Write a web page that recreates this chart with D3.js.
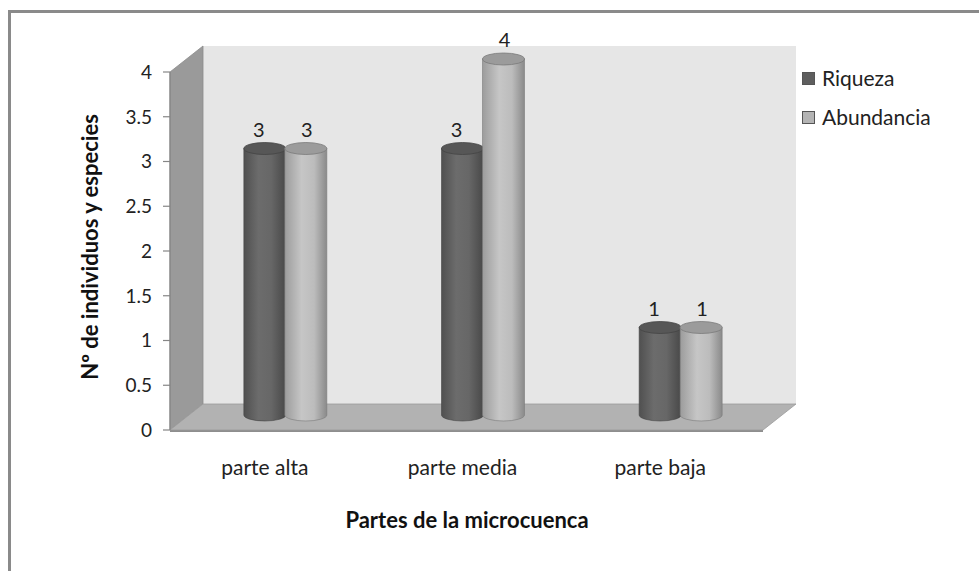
<!DOCTYPE html>
<html>
<head>
<meta charset="utf-8">
<script src="https://cdn.jsdelivr.net/npm/d3@7"></script>
<style>
html,body{margin:0;padding:0;background:#fff;}
svg{display:block;font-family:Lato,"Open Sans",sans-serif;}
</style>
</head>
<body>
<svg id="chart" width="979" height="571"></svg>
<script>
const categories = ["parte alta", "parte media", "parte baja"];
const seriesNames = ["Riqueza", "Abundancia"];
const riqueza = [3, 3, 1];
const abundancia = [3, 4, 1];
const yTicks = [0, 0.5, 1, 1.5, 2, 2.5, 3, 3.5, 4];
const yTickLabels = ["0", "0.5", "1", "1.5", "2", "2.5", "3", "3.5", "4"];
const yTitle = "Nº de individuos y especies";
const xTitle = "Partes de la microcuenca";

const svg = d3.select("#chart");
const defs = svg.append("defs");

// outer frame
svg.append("rect").attr("x", 9.5).attr("y", 11.5).attr("width", 1000).attr("height", 600)
  .attr("fill", "#fff").attr("stroke", "#8a8a8a").attr("stroke-width", 3);

// geometry
const front = {x0: 170, x1: 763, yBase: 430};
const depth = {dx: 33, dy: -26};
const y = d3.scaleLinear().domain([0, 4]).range([front.yBase, 72]);
const x = d3.scaleBand().domain(categories).range([front.x0, front.x1]);
const yTop = y(4);

// back wall
svg.append("polygon")
  .attr("points", [[front.x0 + depth.dx, yTop + depth.dy], [front.x1 + depth.dx, yTop + depth.dy],
    [front.x1 + depth.dx, front.yBase + depth.dy], [front.x0 + depth.dx, front.yBase + depth.dy]].join(" "))
  .attr("fill", "#e6e6e6");
// left wall
svg.append("polygon")
  .attr("points", [[front.x0, yTop], [front.x0 + depth.dx, yTop + depth.dy],
    [front.x0 + depth.dx, front.yBase + depth.dy], [front.x0, front.yBase]].join(" "))
  .attr("fill", "#9a9a9a").attr("stroke", "#8c8c8c").attr("stroke-width", 0.8);
// floor thickness
svg.append("polygon")
  .attr("points", [[front.x0, front.yBase], [front.x1, front.yBase], [front.x1, front.yBase + 2], [front.x0, front.yBase + 2]].join(" "))
  .attr("fill", "#8e8e8e");
// floor
svg.append("polygon")
  .attr("points", [[front.x0, front.yBase], [front.x0 + depth.dx, front.yBase + depth.dy],
    [front.x1 + depth.dx, front.yBase + depth.dy], [front.x1, front.yBase]].join(" "))
  .attr("fill", "#b2b2b2").attr("stroke", "#9a9a9a").attr("stroke-width", 0.8);

// y axis line + ticks
svg.append("line").attr("x1", front.x0).attr("x2", front.x0).attr("y1", yTop).attr("y2", front.yBase)
  .attr("stroke", "#868686").attr("stroke-width", 1.2);
const tickG = svg.append("g");
yTicks.forEach((t, i) => {
  tickG.append("line").attr("x1", front.x0 - 7).attr("x2", front.x0).attr("y1", y(t)).attr("y2", y(t))
    .attr("stroke", "#868686").attr("stroke-width", 1.2);
  tickG.append("text").attr("x", 152).attr("y", y(t)).attr("dy", "0.36em")
    .attr("text-anchor", "end").attr("font-size", 19).attr("fill", "#222").text(yTickLabels[i]);
});

// gradients
function grad(id, stops) {
  const g = defs.append("linearGradient").attr("id", id).attr("x1", "0%").attr("x2", "100%").attr("y1", "0%").attr("y2", "0%");
  stops.forEach(s => g.append("stop").attr("offset", s[0]).attr("stop-color", s[1]));
}
grad("gR", [["0%", "#505050"], ["35%", "#6c6c6c"], ["65%", "#676767"], ["100%", "#484848"]]);
grad("gA", [["0%", "#9c9c9c"], ["40%", "#c6c6c6"], ["70%", "#bcbcbc"], ["100%", "#8a8a8a"]]);

const colors = {side: ["url(#gR)", "url(#gA)"], top: ["#575757", "#9b9b9b"], stroke: ["#444", "#7a7a7a"], legend: ["#5e5e5e", "#b4b4b4"]};
const data = [riqueza, abundancia];

const barW = 42, overlap = 1, ry = 6;
const mid = {dx: depth.dx / 2, dy: depth.dy / 2};
const labelOffsets = [-6, 1];

categories.forEach((c, ci) => {
  const cx = x(c) + x.bandwidth() / 2 + mid.dx;
  seriesNames.forEach((s, si) => {
    const v = data[si][ci];
    const left = si === 0 ? cx - barW + overlap / 2 : cx - overlap / 2;
    const right = left + barW;
    const rx = barW / 2;
    const base = y(0) + mid.dy - 2;
    const top = y(v) + mid.dy;
    const g = svg.append("g");
    g.append("path")
      .attr("d", `M${left},${top} L${left},${base} A${rx},${ry} 0 0 0 ${right},${base} L${right},${top} Z`)
      .attr("fill", colors.side[si]).attr("stroke", colors.stroke[si]).attr("stroke-width", 0.6);
    g.append("ellipse").attr("cx", (left + right) / 2).attr("cy", top).attr("rx", rx).attr("ry", ry)
      .attr("fill", colors.top[si]).attr("stroke", colors.stroke[si]).attr("stroke-width", 0.8);
    svg.append("text").attr("x", (left + right) / 2 + labelOffsets[si]).attr("y", top - 12)
      .attr("text-anchor", "middle").attr("font-size", 20).attr("fill", "#222").text(v);
  });
});

// category labels
categories.forEach(c => {
  svg.append("text").attr("x", x(c) + x.bandwidth() / 2 - 4).attr("y", 475)
    .attr("text-anchor", "middle").attr("font-size", 21).attr("fill", "#222").text(c);
});

// axis titles
svg.append("text").attr("x", 467).attr("y", 528).attr("text-anchor", "middle")
  .attr("font-size", 22).attr("font-weight", "bold").attr("fill", "#111").text(xTitle);
svg.append("text").attr("transform", "translate(98,247) rotate(-90)").attr("text-anchor", "middle")
  .attr("font-size", 22).attr("font-weight", "bold").attr("fill", "#111").text(yTitle);

// legend
seriesNames.forEach((s, i) => {
  const ly = 72 + i * 39;
  svg.append("rect").attr("x", 802.5).attr("y", ly + 0.5).attr("width", 12).attr("height", 12)
    .attr("fill", colors.legend[i]).attr("stroke", "#555").attr("stroke-width", 1);
  svg.append("text").attr("x", 822).attr("y", ly + 6).attr("dy", "0.36em")
    .attr("font-size", 21).attr("fill", "#222").text(s);
});
</script>
</body>
</html>
